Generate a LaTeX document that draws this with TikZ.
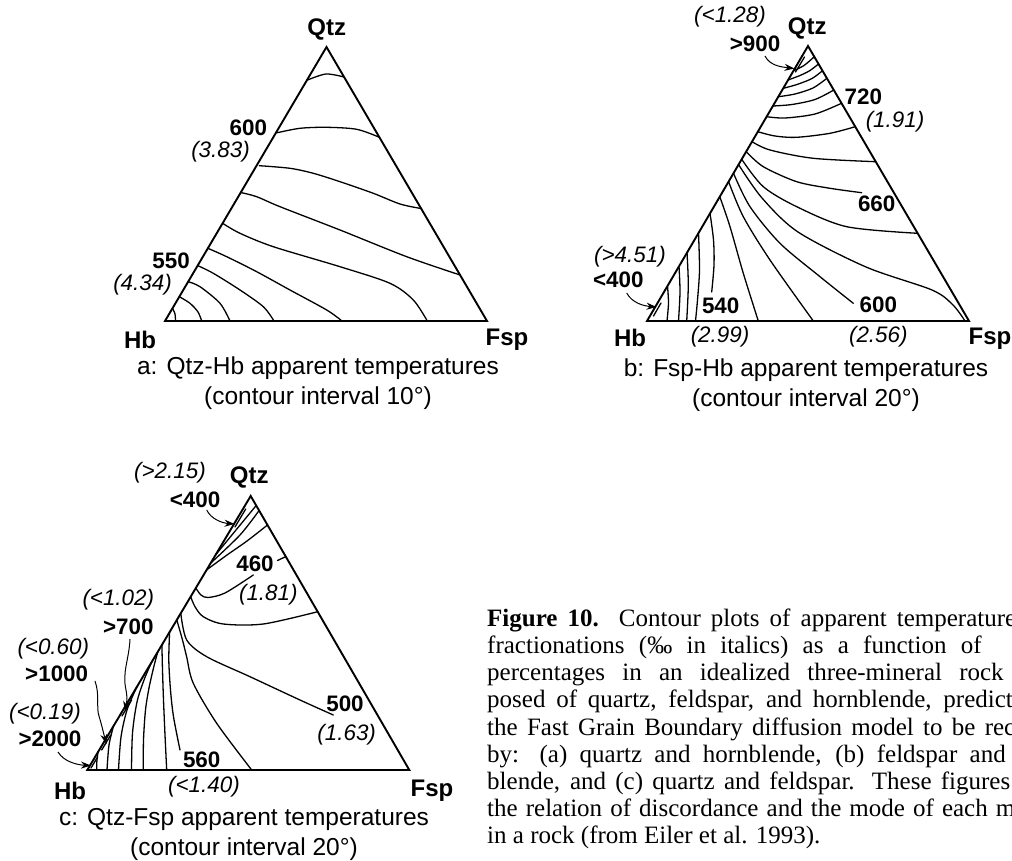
\documentclass[tikz,border=0pt]{standalone}
\usepackage{fontspec}
\setmainfont{Liberation Serif}
\newfontfamily\helv{Liberation Sans}
\usetikzlibrary{arrows.meta}
\begin{document}
\begin{tikzpicture}[x=1pt,y=-1pt,
  tri/.style={line width=1.9pt,line join=miter},
  cont/.style={line width=1.3pt,line cap=round},
  num/.style={font={\helv\bfseries\fontsize{22.4}{24}\selectfont},inner sep=0pt},
  frac/.style={font={\helv\itshape\fontsize{22.4}{24}\selectfont},inner sep=0pt},
  vert/.style={font={\helv\bfseries\fontsize{24}{26}\selectfont},inner sep=0pt},
  sub/.style={font={\helv\fontsize{24.5}{30}\selectfont},inner sep=0pt,align=center},
  arr/.style={line width=1pt,-{Stealth[length=10pt,width=7pt]}},
  capline/.style={font={\fontsize{25}{27}\selectfont},inner sep=0pt,anchor=base west},
]
\useasboundingbox (0,0) rectangle (1012,861);
\fill[white] (0,0) rectangle (1012,861);

% ================= a =================
\draw[tri] (165,321) -- (326.5,47) -- (487,321) -- cycle;
\draw[cont] plot[smooth] coordinates {(307.6,80) (326,74) (344.1,77)};
\draw[cont] plot[smooth] coordinates {(277.4,132.7) (300,128.3) (326.7,127.3) (356.7,129.3) (379.4,137.3)};
\draw[cont] plot[smooth] coordinates {(259.3,165.7) (290,168.3) (313.3,173.3) (340,181.7) (373.3,193.3) (400,204) (421,208.5)};
\draw[cont] plot[smooth] coordinates {(241.6,192.7) (256.7,196.7) (280,206.7) (340,230) (406.7,256.7) (460.1,275)};
\draw[cont] plot[smooth] coordinates {(222.6,223.3) (240,233.3) (273.3,246.7) (340,266.7) (390,283.3) (413.3,300) (427.3,321)};
\draw[cont] plot[smooth] coordinates {(207.9,248.3) (226.7,256.7) (256.7,271.7) (290,290) (326.7,310) (342,321)};
\draw[cont] plot[smooth] coordinates {(197.5,265.5) (213.3,273.3) (240,290) (263.3,306.7) (274,321)};
\draw[cont] plot[smooth] coordinates {(188.2,281.7) (200,286.7) (220,303.3) (230,321)};
\draw[cont] plot[smooth] coordinates {(179.3,296.7) (190,303.3) (198,312) (201.7,321)};
\draw[cont] plot[smooth] coordinates {(172.5,308.3) (175,314) (175.5,321)};
\node[vert] (qa) at (326.7,29) {Qtz};
\node[vert] (hba) at (140,340) {Hb};
\node[vert] (fa) at (507,340) {Fsp};
\node[num,anchor=east] (a600) at (267.3,127.7) {600};
\node[frac,anchor=east] (a383) at (250,151.7) {(3.83)};
\node[num,anchor=east] (a550) at (190,261) {550};
\node[frac,anchor=east] (a434) at (172,285) {(4.34)};
\node[sub] (capa) at (318,383) {a: Qtz-Hb apparent temperatures\\(contour interval 10°)};

% ================= b =================
\draw[tri] (647,321) -- (808,46) -- (969,321) -- cycle;
\draw[cont] (804.5,57) -- (795.5,72);
\draw[cont] plot[smooth] coordinates {(793.5,70.7) (804,65.5) (814.3,56.7)};
\draw[cont] plot[smooth] coordinates {(788.1,80) (800,75.5) (810,70.5) (818.5,64)};
\draw[cont] plot[smooth] coordinates {(783.2,88.3) (797,84.5) (812,78.5) (822.5,70.7)};
\draw[cont] plot[smooth] coordinates {(778.3,96.7) (795,94) (813,88) (826.9,78.3)};
\draw[cont] plot[smooth] coordinates {(772.9,106) (792,104.5) (815,99.5) (833.8,90)};
\draw[cont] plot[smooth] coordinates {(766.6,116.7) (785,118) (815,114) (841.5,103.3)};
\draw[cont] plot[smooth] coordinates {(757.8,131.7) (775,136) (796.7,137.3) (830,133.3) (855.2,126.7)};
\draw[cont] plot[smooth] coordinates {(752,141.7) (770,150) (813.3,158.3) (875.7,161.7)};
\draw[cont] plot[smooth] coordinates {(746.3,151.7) (763.3,166.7) (796.7,181.7) (830,188.3) (861.7,192.7)};
\draw[cont] plot[smooth] coordinates {(741.7,159.3) (763.3,186.7) (796.7,206.7) (846.7,226.7) (917.7,233.3)};
\draw[cont] plot[smooth] coordinates {(738.5,164.5) (762,198) (798,232) (866,267) (932,290) (953,305) (965,321)};
\draw[cont] plot[smooth] coordinates {(733.5,173.3) (750,206.7) (780,243.3) (820,276.7) (853.3,303.3)};
\draw[cont] plot[smooth] coordinates {(728.6,181.7) (743.3,216.7) (770,260) (813.3,321)};
\draw[cont] plot[smooth] coordinates {(719.8,196.7) (730,226.7) (743.3,273.3) (758.3,321)};
\draw[cont] plot[smooth] coordinates {(710,213.3) (713.5,240) (714,265) (711.7,292)};
\draw[cont] plot[smooth] coordinates {(698.5,233) (699.5,270) (697.5,300) (695.5,321)};
\draw[cont] plot[smooth] coordinates {(687,252.5) (688.3,285) (686.7,321)};
\draw[cont] plot[smooth] coordinates {(679,266.5) (680,292) (678.5,321)};
\draw[cont] plot[smooth] coordinates {(667.5,286) (668.5,303) (667,321)};
\draw[cont] (661,303) -- (653.5,316);
\node[vert] (qb) at (807.3,28.3) {Qtz};
\node[vert] (hbb) at (630,338.3) {Hb};
\node[vert] (fb) at (990,338.3) {Fsp};
\node[frac] (b128) at (730,16.7) {(<1.28)};
\node[num] (b900) at (755,43.3) {>900};
\node[num] (b720) at (863.3,96.7) {720};
\node[frac] (b191) at (895,121.7) {(1.91)};
\node[num] (b660) at (876.7,203.3) {660};
\node[frac] (b451) at (630,256.7) {(>4.51)};
\node[num] (b400) at (618.3,280) {<400};
\node[num] (b540) at (720.7,306) {540};
\node[num] (b600) at (878.3,305) {600};
\node[frac] (b299) at (720,336.7) {(2.99)};
\node[frac] (b256) at (878.3,336.7) {(2.56)};
\coordinate (tb900) at (794.5,68.5);
\coordinate (tb400) at (656.5,307);
\draw[arr] (765,56) .. controls (770,66) and (782,67) .. (tb900);
\draw[arr] (626.7,293) .. controls (632,303) and (644,306) .. (tb400);
\node[sub] (capb) at (806,385) {b: Fsp-Hb apparent temperatures\\(contour interval 20°)};

% ================= c =================
\draw[tri] (87.3,770) -- (250.7,496) -- (409.3,770) -- cycle;
\draw[cont] (245.7,509) -- (235,527);
\draw[cont] plot[smooth] coordinates {(256.2,505.5) (236,530) (215.5,555)};
\draw[cont] plot[smooth] coordinates {(259.1,510.5) (240,535) (210.8,563)};
\draw[cont] plot[smooth] coordinates {(267.5,525) (247,541) (227,555) (206.5,570)};
\draw[cont] plot[smooth] coordinates {(195.8,588) (201,595) (208,597.5) (225,593) (253.3,575)};
\draw[cont] (277.5,560.5) -- (286,556.5);
\draw[cont] plot[smooth] coordinates {(190.7,596.7) (195,606.7) (203.3,616.7) (223.3,624) (263.3,624) (317.7,611.7)};
\draw[cont] plot[smooth] coordinates {(180.8,613.3) (186.7,640) (206.7,656.7) (250,676.7) (300,700) (333.3,715)};
\draw[cont] plot[smooth] coordinates {(176.8,620) (182.5,640) (186.7,657) (193.3,683.3) (216.7,723.3) (251.7,770)};
\draw[cont] plot[smooth] coordinates {(169.6,632) (168.8,660) (170.5,690) (173.5,716.7) (180,750)};
\draw[cont] plot[smooth] coordinates {(161.9,645) (162.5,670) (163.5,700) (165,735) (166.7,770)};
\draw[cont] plot[smooth] coordinates {(157.7,652) (153.5,668) (149,688) (145.5,710) (143.5,740) (143.3,770)};
\draw[cont] plot[smooth] coordinates {(151.7,662) (144,680) (137,702) (132.5,733) (131.5,770)};
\draw[cont] plot[smooth] coordinates {(136.8,687) (127,710) (121,737) (118.5,770)};
\draw[cont] plot[smooth] coordinates {(113.5,726) (109,745) (107,770)};
\draw[cont] plot[smooth] coordinates {(98,752) (96.8,762) (96.7,770)};
\draw[cont] (131.6,700) -- (122,716);
\draw[cont] (110.7,735) -- (101.7,750);
\draw[cont] (97.6,757) -- (91,768);
\node[vert] (qc) at (249.3,477.3) {Qtz};
\node[vert] (hbc) at (70,790.7) {Hb};
\node[vert] (fc) at (432,790.7) {Fsp};
\node[frac] (c215) at (170,472.7) {(>2.15)};
\node[num] (c400) at (195,499.3) {<400};
\node[num] (c460) at (255,563.3) {460};
\node[frac] (c181) at (268.3,595) {(1.81)};
\node[num] (c500) at (345,703.3) {500};
\node[frac] (c163) at (346.7,735) {(1.63)};
\node[num] (c560) at (201.7,759.3) {560};
\node[frac] (c140) at (204,786.7) {(<1.40)};
\node[frac] (c102) at (118.3,600) {(<1.02)};
\node[num] (c700) at (128.3,626.7) {>700};
\node[frac] (c060) at (53.3,648.3) {(<0.60)};
\node[num] (c1000) at (56.7,673.3) {>1000};
\node[frac] (c019) at (45,713.3) {(<0.19)};
\node[num] (c2000) at (50,738.3) {>2000};
\coordinate (tc400) at (234.5,524);
\coordinate (tc700) at (125,711);
\coordinate (tc1000) at (106.5,744);
\coordinate (tc2000) at (91,765.5);
\draw[arr] (206.7,510) .. controls (211,519) and (222,523) .. (tc400);
\draw[arr] (130,639) .. controls (129,660) and (122,672) .. (126,690) .. controls (128,700) and (126,705) .. (tc700);
\draw[arr] (95,681) .. controls (100,695) and (96,708) .. (99,716) .. controls (102,726) and (104,735) .. (tc1000);
\draw[arr] (58,752) .. controls (64,762) and (78,765) .. (tc2000);
\node[sub] (capc) at (244,834) {c: Qtz-Fsp apparent temperatures\\(contour interval 20°)};

% ================= caption =================
\begin{scope}
\clip (0,0) rectangle (1012,861);
\node[capline] (l1) at (487,626) {\makebox[585pt][s]{\textbf{Figure 10.} Contour plots of apparent temperatures \phantom{and}}};
\node[capline] (l2) at (487,653) {\makebox[585pt][s]{fractionations (‰ in italics) as a function of \phantom{mineral}}};
\node[capline] (l3) at (487,680) {\makebox[585pt][s]{percentages in an idealized three-mineral rock \phantom{com-}}};
\node[capline] (l4) at (487,707.5) {\makebox[585pt][s]{posed of quartz, feldspar, and hornblende, predicted \phantom{by}}};
\node[capline] (l5) at (487,735) {\makebox[585pt][s]{the Fast Grain Boundary diffusion model to be recorded}};
\node[capline] (l6) at (487,762) {\makebox[585pt][s]{by: (a) quartz and hornblende, (b) feldspar and \phantom{horn-}}};
\node[capline] (l7) at (487,789.5) {\makebox[585pt][s]{blende, and (c) quartz and feldspar. These figures \phantom{show}}};
\node[capline] (l8) at (487,816.5) {\makebox[585pt][s]{the relation of discordance and the mode of each mineral}};
\node[capline] (l9) at (487,843.5) {in a rock (from Eiler et al. 1993).};
\end{scope}
\end{tikzpicture}
\end{document}
